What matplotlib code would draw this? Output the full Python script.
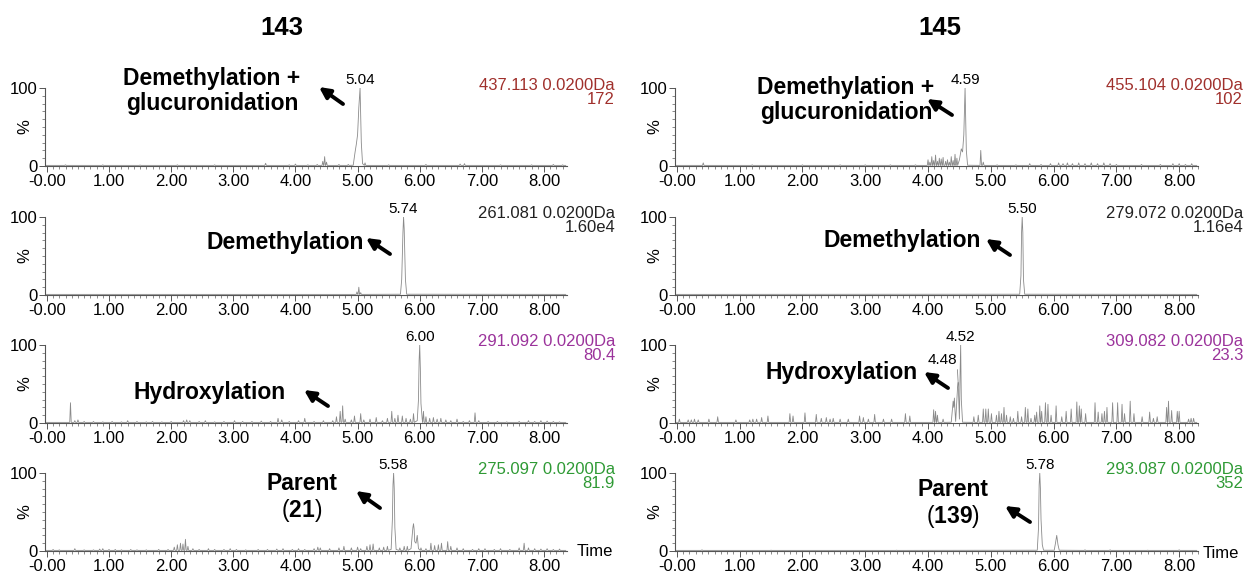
import numpy as np
import matplotlib.pyplot as plt
from matplotlib.ticker import MultipleLocator, FixedLocator, FuncFormatter

plt.rcParams['font.family'] = ['Liberation Sans', 'DejaVu Sans']
plt.rcParams['mathtext.fontset'] = 'custom'
plt.rcParams['mathtext.bf'] = 'Liberation Sans:bold'
plt.rcParams['mathtext.rm'] = 'Liberation Sans'

# ---- data ----
compounds = ['143', '145']
masses = [['437.113 0.0200Da', '261.081 0.0200Da', '291.092 0.0200Da', '275.097 0.0200Da'],
          ['455.104 0.0200Da', '279.072 0.0200Da', '309.082 0.0200Da', '293.087 0.0200Da']]
intens = [['172', '1.60e4', '80.4', '81.9'],
          ['102', '1.16e4', '23.3', '352']]
mass_colors = ['#a0302c', '#222222', '#9b339b', '#2f9a35']
rt_labels = [[5.04, 5.74, 6.00, 5.58],
             [4.59, 5.50, 4.52, 5.78]]

# 143 / 437.113
a1_pk_t = [4.93, 4.96, 4.98, 5.00, 5.02, 5.04, 5.06, 5.08]
a1_pk_h = [1, 18, 28, 40, 75, 100, 30, 3]
a1_nz_t = [0.3, 0.9, 1.5, 2.1, 2.7, 3.52, 3.9, 4.0, 4.2, 4.35, 4.44, 4.47, 4.5, 4.7, 4.85,
           5.12, 5.5, 6.1, 6.65, 6.72, 7.3, 7.8, 8.15, 8.3]
a1_nz_h = [1.5, 1.5, 1.2, 1.5, 1.5, 3.5, 1.5, 2.5, 1.5, 2, 6, 12, 5, 2, 2,
           4, 1.5, 2, 2.5, 3, 1.5, 1.5, 2, 1.5]

# 143 / 261.081
a2_pk_t = [5.69, 5.71, 5.73, 5.74, 5.75, 5.77, 5.79]
a2_pk_h = [1, 20, 80, 100, 85, 20, 1]
a2_nz_t = [4.99, 5.02, 5.05]
a2_nz_h = [4, 10, 3]

# 143 / 291.092
a3_pk_t = [5.96, 5.98, 5.99, 6.00, 6.01, 6.02, 6.04]
a3_pk_h = [3, 30, 80, 100, 70, 25, 5]
a3_nz_t = [0.38, 0.45, 0.5, 0.6, 0.75, 0.9, 1.05, 1.2, 1.3, 1.45, 1.6, 1.7, 1.85, 2.0, 2.2, 2.25,
           2.3, 2.45, 2.55, 2.7, 2.85, 3.02, 3.15, 3.3, 3.45, 3.6, 3.72, 3.78, 3.9, 4.05, 4.15,
           4.3, 4.45, 4.6, 4.66, 4.72, 4.76, 4.8, 4.9, 4.95, 5.05, 5.1, 5.2, 5.3, 5.4, 5.48,
           5.55, 5.6, 5.65, 5.72, 5.78, 5.85, 5.9, 6.06, 6.1, 6.16, 6.22, 6.28, 6.34, 6.42,
           6.5, 6.6, 6.7, 6.8, 6.89, 6.95, 7.1, 7.25, 7.4, 7.6, 7.75, 7.85, 7.95, 8.05, 8.15, 8.25]
a3_nz_h = [26, 3, 4, 2, 2, 1.5, 2, 1.5, 3, 2, 1.5, 2, 1.5, 2, 3, 4,
           3, 2, 3, 1.5, 2, 3, 2, 2, 2.5, 2, 6, 4, 2, 3, 6,
           2, 3, 3, 8, 15, 22, 5, 4, 9, 12, 4, 5, 7, 3, 6,
           15, 6, 10, 9, 6, 5, 12, 15, 8, 6, 7, 5, 6, 4,
           3, 5, 2, 3, 13, 3, 2, 2, 1.5, 2, 3, 2, 3, 2.5, 2, 1.5]

# 143 / 275.097
a4_pk_t = [5.54, 5.56, 5.57, 5.58, 5.59, 5.60, 5.62, 5.86, 5.88, 5.89, 5.90, 5.91, 5.92,
           5.94, 5.96, 5.98]
a4_pk_h = [2, 40, 85, 100, 80, 30, 2, 3, 20, 30, 35, 28, 12, 10, 20, 3]
a4_nz_t = [0.1, 0.2, 0.45, 0.6, 0.75, 0.85, 0.9, 1.0, 1.1, 1.2, 1.35, 1.45, 1.6, 1.8, 1.95,
           2.05, 2.1, 2.15, 2.19, 2.23, 2.27, 2.35, 2.45, 2.6, 2.7, 2.85, 2.95, 3.05, 3.2, 3.4,
           3.55, 3.7, 3.8, 3.95, 4.05, 4.15, 4.3, 4.36, 4.4, 4.55, 4.7, 4.78, 4.9, 5.0, 5.05,
           5.15, 5.2, 5.25, 5.35, 5.42, 5.48, 5.68, 5.75, 5.8, 6.02, 6.1, 6.18, 6.24, 6.3,
           6.35, 6.45, 6.5, 6.6, 6.7, 6.85, 6.95, 7.05, 7.2, 7.3, 7.45, 7.6, 7.68, 7.75,
           7.85, 7.95, 8.05, 8.15, 8.25]
a4_nz_h = [2, 1.5, 3, 1.5, 1.5, 2.5, 3, 2, 2, 1.5, 2, 1.5, 1.5, 2, 2,
           5, 8, 10, 9, 15, 6, 3, 2, 3, 2, 2, 3, 2, 1.5, 2,
           2, 2.5, 3, 2, 3, 2, 3, 5, 4, 3, 4, 6, 4, 5, 3,
           6, 8, 9, 4, 5, 6, 4, 6, 6, 4, 3, 10, 7, 8,
           10, 12, 6, 4, 3, 2, 3, 3, 2, 3, 2, 4, 10, 4,
           3, 2.5, 3, 2, 2.5]

# 145 / 455.104
b1_pk_t = [4.50, 4.53, 4.55, 4.57, 4.59, 4.61, 4.63]
b1_pk_h = [8, 22, 18, 40, 100, 20, 1]
b1_nz_t = [0.42, 1.2, 2.0, 2.6, 3.0, 3.4, 3.8, 4.0, 4.03, 4.06, 4.09, 4.12, 4.15, 4.18, 4.21,
           4.24, 4.28, 4.31, 4.34, 4.37, 4.40, 4.43, 4.46, 4.84, 4.88, 5.1, 5.4, 5.62, 5.8,
           5.95, 6.08, 6.15, 6.22, 6.3, 6.4, 6.5, 6.6, 6.7, 6.8, 6.9, 7.0, 7.4, 7.7, 7.9,
           8.0, 8.1, 8.2]
b1_nz_h = [4, 1.5, 1.5, 1.5, 1.5, 1.5, 1.5, 8, 5, 12, 7, 14, 6, 10, 9,
           11, 6, 8, 5, 12, 7, 15, 10, 20, 5, 1.5, 1.5, 3, 2,
           3, 4, 3, 4, 3, 4, 3, 4, 3, 4, 3, 2, 2, 2, 3,
           3, 2, 3]

# 145 / 279.072
b2_pk_t = [5.46, 5.48, 5.49, 5.50, 5.51, 5.52, 5.54]
b2_pk_h = [1, 25, 80, 100, 80, 20, 1]
b2_nz_t = []
b2_nz_h = []

# 145 / 309.082
b3_pk_t = [4.37, 4.39, 4.40, 4.41, 4.42, 4.43, 4.44, 4.46, 4.47, 4.48, 4.49, 4.50, 4.51,
           4.52, 4.53, 4.55]
b3_pk_h = [1, 18, 28, 20, 32, 15, 2, 30, 45, 52, 30, 5, 60, 100, 30, 1]
b3_nz_t = [0.04, 0.18, 0.23, 0.28, 0.34, 0.51, 0.65, 0.94, 1.16, 1.21, 1.27, 1.35, 1.45,
           1.80, 1.85, 2.04, 2.22, 2.30, 2.38, 2.44, 2.49, 2.60, 2.73, 2.91, 2.97, 3.05,
           3.15, 3.29, 3.42, 3.64, 3.71, 4.09, 4.12, 4.15, 4.24, 4.73, 4.80, 4.88, 4.92,
           4.96, 5.01, 5.09, 5.13, 5.17, 5.21, 5.25, 5.31, 5.36, 5.43, 5.49, 5.55, 5.59,
           5.64, 5.70, 5.73, 5.78, 5.81, 5.87, 5.91, 5.96, 6.04, 6.13, 6.20, 6.28, 6.37,
           6.41, 6.44, 6.51, 6.66, 6.71, 6.77, 6.81, 6.85, 6.94, 7.02, 7.09, 7.13, 7.22,
           7.28, 7.41, 7.53, 7.59, 7.65, 7.80, 7.83, 7.88, 7.97, 8.00, 8.15, 8.19, 8.23]
b3_nz_h = [5, 4, 4, 5, 4, 5, 8, 4, 4, 5, 5, 7, 9,
           12, 9, 13, 11, 6, 7, 5, 6, 5, 5, 9, 7, 5,
           11, 5, 5, 12, 9, 17, 15, 10, 5, 8, 10, 18, 18,
           18, 12, 10, 15, 12, 20, 10, 8, 6, 15, 8, 20, 18,
           6, 10, 14, 22, 15, 26, 24, 10, 22, 8, 15, 18, 27,
           22, 18, 12, 26, 14, 12, 15, 20, 26, 26, 24, 12, 28,
           12, 8, 14, 6, 8, 20, 28, 16, 15, 15, 5, 6, 6]

# 145 / 293.087
b4_pk_t = [5.74, 5.76, 5.77, 5.78, 5.79, 5.80, 5.82, 5.84, 6.01, 6.03, 6.05, 6.07, 6.09]
b4_pk_h = [1, 30, 85, 100, 80, 40, 8, 1, 1, 10, 20, 8, 1]
b4_nz_t = [0.4, 1.5, 3.5, 6.5, 6.9, 7.5, 8.0]
b4_nz_h = [1.5, 1, 1, 1.5, 1.5, 1, 1.5]

traces = [[(a1_pk_t, a1_pk_h, a1_nz_t, a1_nz_h), (a2_pk_t, a2_pk_h, a2_nz_t, a2_nz_h),
           (a3_pk_t, a3_pk_h, a3_nz_t, a3_nz_h), (a4_pk_t, a4_pk_h, a4_nz_t, a4_nz_h)],
          [(b1_pk_t, b1_pk_h, b1_nz_t, b1_nz_h), (b2_pk_t, b2_pk_h, b2_nz_t, b2_nz_h),
           (b3_pk_t, b3_pk_h, b3_nz_t, b3_nz_h), (b4_pk_t, b4_pk_h, b4_nz_t, b4_nz_h)]]

W, H = 1250, 575


def px(x, y):
    # image pixel (from top-left) -> figure fraction
    return (x / W, 1 - y / H)


def build_trace(pk_t, pk_h, nz_t, nz_h, xmax, base=0.8, hw=0.012):
    pts = [(-0.03, base), (xmax - 0.02, base)]
    pts += list(zip(pk_t, pk_h))
    for t, h in zip(nz_t, nz_h):
        pts += [(t - hw, base), (t, h), (t + hw, base)]
    pts.sort()
    return [p[0] for p in pts], [p[1] for p in pts]


fig = plt.figure(figsize=(12.5, 5.75), dpi=100)

col_x = [45, 675]
col_w = [522, 523]
col_xmax = [8.37, 8.30]
row_bottom = [166, 295, 423, 551]
ax_h = 78

axes = []
for c in range(2):
    for r in range(4):
        x0, y0 = px(col_x[c], row_bottom[r])
        ax = fig.add_axes([x0, y0, col_w[c] / W, ax_h / H])
        axes.append(ax)
        t, y = build_trace(*traces[c][r], col_xmax[c])
        ax.plot(t, y, color='#8a8a8a', lw=0.6)
        ax.set_xlim(-0.03, col_xmax[c])
        ax.set_ylim(0, 100)
        for s in ['top', 'right']:
            ax.spines[s].set_visible(False)
        for s in ['left', 'bottom']:
            ax.spines[s].set_color('#555555')
            ax.spines[s].set_linewidth(0.8)
        ax.xaxis.set_major_locator(FixedLocator(np.arange(0, 9)))
        ax.xaxis.set_minor_locator(MultipleLocator(0.1))
        ax.xaxis.set_major_formatter(FuncFormatter(lambda v, p: '-0.00' if v == 0 else f'{v:.2f}'))
        ax.yaxis.set_major_locator(FixedLocator([0, 100]))
        ax.yaxis.set_minor_locator(MultipleLocator(10))
        ax.tick_params(which='major', length=4, width=0.7, color='#555555', labelsize=12, pad=1.5)
        ax.tick_params(which='minor', length=2, width=0.6, color='#777777')
        ax.set_ylabel('%', fontsize=12)
        ax.yaxis.set_label_coords(-0.024, 0.5)
        ax.patch.set_alpha(0)

        rt = rt_labels[c][r]
        ax.text(rt, 101, f'{rt:.2f}', ha='center', va='bottom', fontsize=11, clip_on=False)

        # mass / intensity labels
        rx = [615, 1243][c]
        fig.text(*px(rx, row_bottom[r] - 81), masses[c][r], ha='right', va='center',
                 fontsize=12, color=mass_colors[r])
        fig.text(*px(rx, row_bottom[r] - 67), intens[c][r], ha='right', va='center',
                 fontsize=12, color=mass_colors[r])

# second label in 145 hydroxylation panel
axes[6].annotate('4.48', xy=(4.48, 52), xytext=(4.465, 72), textcoords='data',
                 ha='right', va='bottom', fontsize=11,
                 arrowprops=dict(arrowstyle='-', color='#888888', lw=0.6, shrinkA=0, shrinkB=0,
                                 relpos=(1, 0)))

# Time labels
fig.text(*px(577, 551), 'Time', ha='left', va='center', fontsize=12)
fig.text(*px(1203, 553), 'Time', ha='left', va='center', fontsize=12)

# titles
fig.text(*px(282, 28), compounds[0], ha='center', va='center', fontsize=18.5, fontweight='bold')
fig.text(*px(940, 28), compounds[1], ha='center', va='center', fontsize=18.5, fontweight='bold')

# annotation texts and arrows
notes = [
    ('Demethylation +\nglucuronidation', (212, 91), (343, 104), (319, 87)),
    ('Demethylation', (285, 243), (390, 254), (366, 238)),
    ('Hydroxylation', (210, 392), (328, 406), (304, 390)),
    ('Demethylation +\nglucuronidation', (846, 100), (952, 115), (927, 99)),
    ('Demethylation', (902, 240), (1010, 255), (986, 239)),
    ('Hydroxylation', (842, 373), (948, 388), (924, 372)),
]
for txt, pos, tail, head in notes:
    fig.text(*px(*pos), txt, ha='center', va='center', fontsize=16.5, fontweight='bold',
             linespacing=1.1)
    axes[0].annotate('', xy=px(*head), xycoords='figure fraction', xytext=px(*tail),
                     textcoords='figure fraction', annotation_clip=False,
                     arrowprops=dict(arrowstyle='-|>', color='black', lw=2.8, mutation_scale=16,
                                     shrinkA=0, shrinkB=0))

# parent labels
for pos, num, tail, head in [((302, 484), '21', (380, 508), (356, 491)),
                             ((953, 490), '139', (1030, 522), (1005, 506))]:
    fig.text(*px(*pos), 'Parent', ha='center', va='center', fontsize=16.5, fontweight='bold')
    fig.text(*px(pos[0], pos[1] + 26), '(' + r'$\mathbf{' + num + '}$' + ')', ha='center',
             va='center', fontsize=16.5)
    axes[0].annotate('', xy=px(*head), xycoords='figure fraction', xytext=px(*tail),
                     textcoords='figure fraction', annotation_clip=False,
                     arrowprops=dict(arrowstyle='-|>', color='black', lw=2.8, mutation_scale=16,
                                     shrinkA=0, shrinkB=0))

plt.savefig('out.png', dpi=100)
plt.close()
